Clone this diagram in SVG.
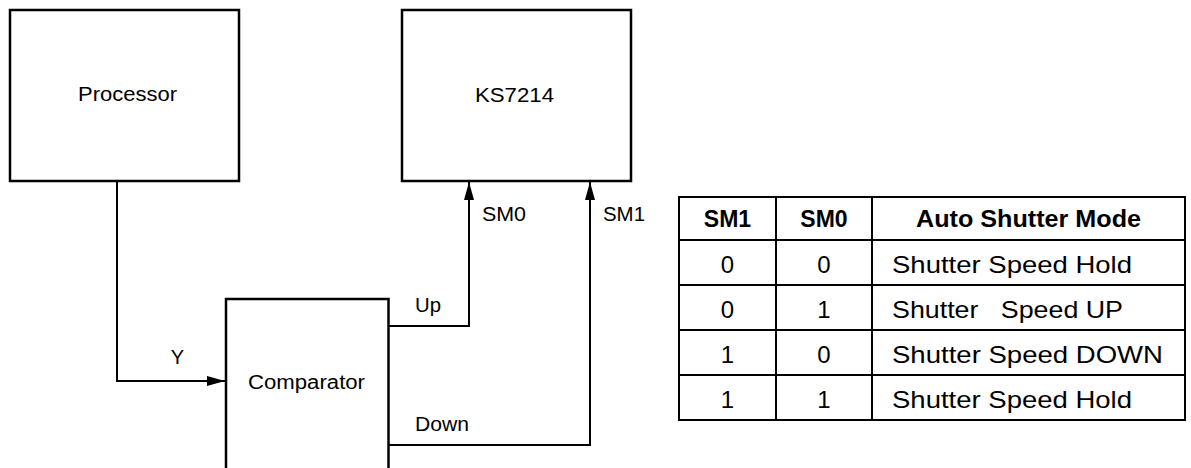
<svg xmlns="http://www.w3.org/2000/svg" width="1191" height="468" viewBox="0 0 1191 468">
<style>
.box{fill:#fff;stroke:#000;stroke-width:2.5}
.ln{fill:none;stroke:#000;stroke-width:2}
.t{font-family:"Liberation Sans",Arial,sans-serif;font-size:20px;fill:#000}
.tb{font-family:"Liberation Sans",Arial,sans-serif;font-size:23px;font-weight:bold;fill:#000}
.tr{font-family:"Liberation Sans",Arial,sans-serif;font-size:24px;fill:#000}
.grid{fill:none;stroke:#000;stroke-width:2}
</style>
<defs>
<marker id="arr" viewBox="0 0 18 10" refX="18" refY="5" markerWidth="18" markerHeight="10" orient="auto" markerUnits="userSpaceOnUse">
<path d="M0,0 L18,5 L0,10 z" fill="#000"/>
</marker>
</defs>
<rect width="1191" height="468" fill="#fff"/>
<g id="processor">
<rect class="box" x="10" y="10" width="229" height="171"/>
<text class="t" x="78" y="101" textLength="99" lengthAdjust="spacingAndGlyphs">Processor</text>
</g>
<g id="ks7214">
<rect class="box" x="402" y="10" width="229" height="171"/>
<text class="t" x="475" y="101.5" textLength="79" lengthAdjust="spacingAndGlyphs">KS7214</text>
</g>
<g id="comparator">
<rect class="box" x="226" y="299" width="162.5" height="200"/>
<text class="t" x="248" y="389" textLength="117" lengthAdjust="spacingAndGlyphs">Comparator</text>
</g>
<g id="connectors">
<path class="ln" d="M117,181 V381 H225" marker-end="url(#arr)"/>
<path class="ln" d="M389,326 H469 V182" marker-end="url(#arr)"/>
<path class="ln" d="M389,445 H590 V182" marker-end="url(#arr)"/>
<text class="t" x="177.5" y="364" text-anchor="middle">Y</text>
<text class="t" x="415" y="312" textLength="26" lengthAdjust="spacingAndGlyphs">Up</text>
<text class="t" x="415" y="431" textLength="54" lengthAdjust="spacingAndGlyphs">Down</text>
<text class="t" x="482" y="221" textLength="44" lengthAdjust="spacingAndGlyphs">SM0</text>
<text class="t" x="603" y="221" textLength="42" lengthAdjust="spacingAndGlyphs">SM1</text>
</g>
<g id="table">
<rect class="grid" x="679" y="197" width="506" height="223"/>
<path class="grid" d="M679,240 H1185 M679,285 H1185 M679,330 H1185 M679,375 H1185 M776,197 V420 M872,197 V420"/>
<text class="tb" x="727.5" y="227" text-anchor="middle">SM1</text>
<text class="tb" x="824" y="227" text-anchor="middle">SM0</text>
<text class="tb" x="916" y="227" textLength="225" lengthAdjust="spacingAndGlyphs">Auto Shutter Mode</text>
<text class="tr" x="727.5" y="273" text-anchor="middle">0</text>
<text class="tr" x="824" y="273" text-anchor="middle">0</text>
<text class="tr" x="892" y="273" textLength="240" lengthAdjust="spacingAndGlyphs">Shutter Speed Hold</text>
<text class="tr" x="727.5" y="318" text-anchor="middle">0</text>
<text class="tr" x="824" y="318" text-anchor="middle">1</text>
<text class="tr" x="892" y="318" textLength="231" lengthAdjust="spacingAndGlyphs" xml:space="preserve">Shutter   Speed UP</text>
<text class="tr" x="727.5" y="363" text-anchor="middle">1</text>
<text class="tr" x="824" y="363" text-anchor="middle">0</text>
<text class="tr" x="892" y="363" textLength="271" lengthAdjust="spacingAndGlyphs">Shutter Speed DOWN</text>
<text class="tr" x="727.5" y="408" text-anchor="middle">1</text>
<text class="tr" x="824" y="408" text-anchor="middle">1</text>
<text class="tr" x="892" y="408" textLength="240" lengthAdjust="spacingAndGlyphs">Shutter Speed Hold</text>
</g>
</svg>
